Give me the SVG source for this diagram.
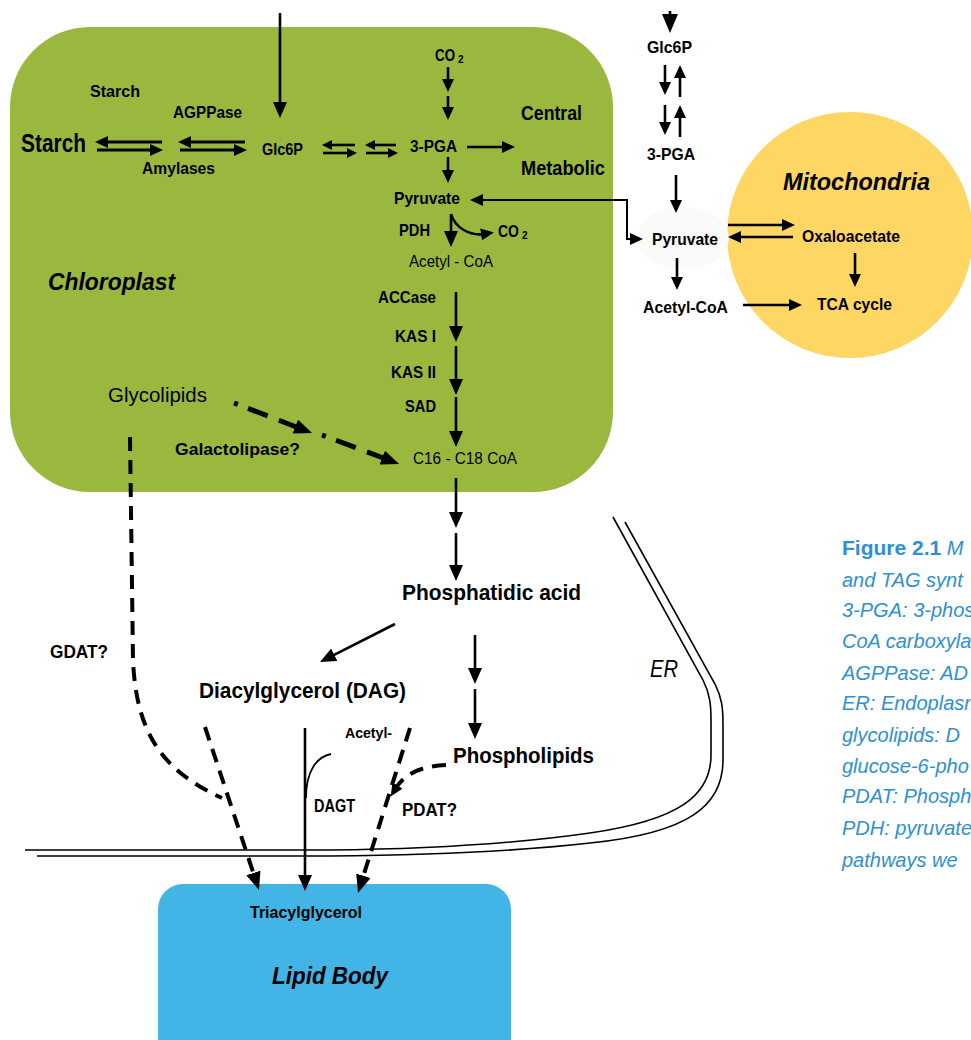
<svg xmlns="http://www.w3.org/2000/svg" width="971" height="1040" viewBox="0 0 971 1040">
<defs>
<style>
text{font-family:"Liberation Sans",Arial,sans-serif;fill:#000}
.b{font-weight:bold}
.r{font-weight:normal}
.bi{font-weight:bold;font-style:italic}
.i{font-style:italic;font-weight:normal}
.cap{font-family:"Liberation Sans",Arial,sans-serif;font-style:italic;font-size:20px;fill:#2E90D1}
.ln{fill:none;stroke:#000;stroke-width:2.6}
.thin{fill:none;stroke:#000;stroke-width:1.8}
.ds{fill:none;stroke:#000;stroke-width:4;stroke-dasharray:14 9}
.dd{fill:none;stroke:#000;stroke-width:5;stroke-dasharray:4 11 21 12 40 100}
.er{fill:none;stroke:#000;stroke-width:1.6}
</style>
<marker id="h" viewBox="0 0 13 12" refX="3" refY="6" markerWidth="13" markerHeight="12" markerUnits="userSpaceOnUse" orient="auto"><path d="M0,0 L13,6 L0,12 z"/></marker>
<marker id="hs" viewBox="0 0 10 10" refX="2" refY="5" markerWidth="10" markerHeight="10" markerUnits="userSpaceOnUse" orient="auto"><path d="M0,0 L10,5 L0,10 z"/></marker>
<marker id="hl" viewBox="0 0 16 14" refX="4" refY="7" markerWidth="16" markerHeight="14" markerUnits="userSpaceOnUse" orient="auto"><path d="M0,0 L16,7 L0,14 z"/></marker>
<marker id="hd" viewBox="0 0 18 15" refX="4" refY="7.5" markerWidth="18" markerHeight="15" markerUnits="userSpaceOnUse" orient="auto"><path d="M0,0 L18,7.5 L0,15 z"/></marker>
<marker id="hx" viewBox="0 0 19 16" refX="4" refY="8" markerWidth="19" markerHeight="16" markerUnits="userSpaceOnUse" orient="auto"><path d="M0,0 L19,8 L0,16 z"/></marker>
<marker id="hb" viewBox="0 0 13 12" refX="3" refY="6" markerWidth="13" markerHeight="12" markerUnits="userSpaceOnUse" orient="auto-start-reverse"><path d="M0,0 L13,6 L0,12 z"/></marker>
</defs>

<g id="chloroplast">
<rect x="10" y="27" width="603" height="465" rx="80" ry="80" fill="#9AB83E"/>
</g>
<g id="mitochondria">
<circle cx="850" cy="235" r="123" fill="#FDD663"/>
<ellipse cx="683" cy="238" rx="46" ry="31" fill="#FAFAF9"/>
</g>
<g id="lipid-body">
<rect x="158" y="884" width="353" height="200" rx="25" ry="25" fill="#42B4E6"/>
</g>
<g id="er-membrane">
<path class="er" d="M613 517 L703 680 C710 694 711 705 711 720 L711 755 C711 795 680 820 590 833 C520 843 430 849 330 850 L25 850"/>
<path class="er" d="M625 522 L715 684 C722 698 723 708 723 725 L723 760 C723 805 690 833 590 843 C520 851 430 855 330 856 L37 856"/>
</g>

<g id="connectors">
<path class="ln" d="M280 13 L280 106" marker-end="url(#hl)"/>
<path class="ln" style="stroke-width:3" d="M162 142 L105 142" marker-end="url(#h)"/>
<path class="ln" style="stroke-width:3" d="M97 150 L153 150" marker-end="url(#h)"/>
<path class="ln" style="stroke-width:3" d="M245 142 L188 142" marker-end="url(#h)"/>
<path class="ln" style="stroke-width:3" d="M180 150 L237 150" marker-end="url(#h)"/>
<path class="ln" d="M355 145 L330 145" marker-end="url(#hs)"/>
<path class="ln" d="M323 153 L349 153" marker-end="url(#hs)"/>
<path class="ln" d="M396 145 L373 145" marker-end="url(#hs)"/>
<path class="ln" d="M366 153 L390 153" marker-end="url(#hs)"/>
<path class="ln" d="M467 147 L505 147" marker-end="url(#h)"/>
<path class="ln" d="M448 67 L448 82" marker-end="url(#h)"/>
<path class="ln" d="M448 96 L448 110" marker-end="url(#h)"/>
<path class="ln" d="M448 157 L448 173" marker-end="url(#h)"/>
<path class="thin" style="stroke-width:2" d="M480 200 L627 200 L627 239 L633 239" marker-start="url(#hb)" marker-end="url(#hb)"/>
<path class="ln" d="M451 214 L451 235" marker-end="url(#hl)"/>
<path class="ln" d="M451 214 C455 228 470 236 484 234" marker-end="url(#h)"/>
<path class="ln" d="M456 292 L456 330" marker-end="url(#hl)"/>
<path class="ln" d="M456 346 L456 383" marker-end="url(#hl)"/>
<path class="ln" d="M456 397 L456 435" marker-end="url(#hl)"/>
<path class="dd" d="M234 403 L299 428" marker-end="url(#hd)"/>
<path class="dd" d="M322 435 L386 459" marker-end="url(#hd)"/>
<path class="ln" d="M456 478 L456 516" marker-end="url(#hl)"/>
<path class="ln" d="M456 533 L456 569" marker-end="url(#hl)"/>
<path class="ln" d="M395 624 L330.7 656.6" marker-end="url(#hl)"/>
<path class="ln" d="M475 635 L475 672" marker-end="url(#hl)"/>
<path class="ln" d="M475 689 L475 727" marker-end="url(#hl)"/>
<path class="ds" d="M130 437 L133 660 C136 730 160 770 222 798"/>
<path class="ds" d="M205 727 L254.6 876.7" marker-end="url(#hd)"/>
<path class="ln" d="M305 728 L305 879" marker-end="url(#hl)"/>
<path class="thin" d="M306 798 C306 772 316 757 331 754"/>
<path class="ds" d="M410 728 L362.2 879.6" marker-end="url(#hd)"/>
<path class="ds" d="M446 765 C424 766 406 772 396 788" marker-end="url(#h)"/>
<path class="ln" d="M670 11 L670 18" marker-end="url(#hx)"/>
<path class="ln" d="M665 65 L665 85" marker-end="url(#h)"/>
<path class="ln" d="M680 97 L680 75" marker-end="url(#h)"/>
<path class="ln" d="M665 105 L665 125" marker-end="url(#h)"/>
<path class="ln" d="M680 137 L680 115" marker-end="url(#h)"/>
<path class="ln" d="M676 175 L676 203" marker-end="url(#h)"/>
<path class="ln" d="M677 258 L677 280" marker-end="url(#h)"/>
<path class="ln" d="M728 225 L785 225" marker-end="url(#h)"/>
<path class="ln" d="M793 237 L738 237" marker-end="url(#h)"/>
<path class="ln" d="M855 253 L855 277" marker-end="url(#h)"/>
<path class="ln" d="M743 305 L792 305" marker-end="url(#h)"/>
</g>

<g id="n-starch-label"><text class="b" x="90" y="97" font-size="17" textLength="50" lengthAdjust="spacingAndGlyphs">Starch</text></g>
<g id="n-agppase"><text class="b" x="173" y="118" font-size="17" textLength="69" lengthAdjust="spacingAndGlyphs">AGPPase</text></g>
<g id="n-starch"><text class="b" x="21" y="152" font-size="25" textLength="65" lengthAdjust="spacingAndGlyphs">Starch</text></g>
<g id="n-amylases"><text class="b" x="142" y="174" font-size="17" textLength="73" lengthAdjust="spacingAndGlyphs">Amylases</text></g>
<g id="n-glc6p"><text class="b" x="262" y="155" font-size="16.5" textLength="41" lengthAdjust="spacingAndGlyphs">Glc6P</text></g>
<g id="n-3pga"><text class="b" x="410" y="152" font-size="16" textLength="47" lengthAdjust="spacingAndGlyphs">3-PGA</text></g>
<g id="n-central"><text class="b" x="521" y="120" font-size="19.5" textLength="61" lengthAdjust="spacingAndGlyphs">Central</text>
<text class="b" x="521" y="175" font-size="19.5" textLength="84" lengthAdjust="spacingAndGlyphs">Metabolic</text></g>
<g id="n-co2-top"><text class="b" x="435" y="61" font-size="16" textLength="20" lengthAdjust="spacingAndGlyphs">CO</text><text class="b" x="458" y="63" font-size="10">2</text></g>
<g id="n-pyruvate"><text class="b" x="394" y="204" font-size="16.5" textLength="66" lengthAdjust="spacingAndGlyphs">Pyruvate</text></g>
<g id="n-pdh"><text class="b" x="399" y="236" font-size="16.5" textLength="31" lengthAdjust="spacingAndGlyphs">PDH</text></g>
<g id="n-co2"><text class="b" x="498" y="237" font-size="16" textLength="21" lengthAdjust="spacingAndGlyphs">CO</text><text class="b" x="522" y="239" font-size="10">2</text></g>
<g id="n-acetylcoa"><text class="r" x="409" y="267" font-size="16.5" textLength="84" lengthAdjust="spacingAndGlyphs">Acetyl - CoA</text></g>
<g id="n-chloroplast-label"><text class="bi" x="48" y="290" font-size="24" textLength="127" lengthAdjust="spacingAndGlyphs">Chloroplast</text></g>
<g id="n-enzymes">
<text class="b" x="378" y="303" font-size="16.5" textLength="58" lengthAdjust="spacingAndGlyphs">ACCase</text>
<text class="b" x="395" y="342" font-size="16.5" textLength="41" lengthAdjust="spacingAndGlyphs">KAS I</text>
<text class="b" x="391" y="378" font-size="16.5" textLength="45" lengthAdjust="spacingAndGlyphs">KAS II</text>
<text class="b" x="405" y="412" font-size="16.5" textLength="31" lengthAdjust="spacingAndGlyphs">SAD</text>
</g>
<g id="n-glycolipids"><text class="r" x="108" y="402" font-size="21" textLength="99" lengthAdjust="spacingAndGlyphs">Glycolipids</text></g>
<g id="n-galactolipase"><text class="b" x="175" y="455" font-size="16.5" textLength="125" lengthAdjust="spacingAndGlyphs">Galactolipase?</text></g>
<g id="n-c16c18"><text class="r" x="413" y="464" font-size="16" textLength="104" lengthAdjust="spacingAndGlyphs">C16 - C18 CoA</text></g>
<g id="n-pa"><text class="b" x="402" y="600" font-size="22" textLength="179" lengthAdjust="spacingAndGlyphs">Phosphatidic acid</text></g>
<g id="n-dag"><text class="b" x="199" y="698" font-size="22" textLength="207" lengthAdjust="spacingAndGlyphs">Diacylglycerol (DAG)</text></g>
<g id="n-phospholipids"><text class="b" x="453" y="763" font-size="22" textLength="141" lengthAdjust="spacingAndGlyphs">Phospholipids</text></g>
<g id="n-gdat"><text class="b" x="50" y="658" font-size="17.5" textLength="58" lengthAdjust="spacingAndGlyphs">GDAT?</text></g>
<g id="n-acetyl"><text class="b" x="345" y="738" font-size="14" textLength="47" lengthAdjust="spacingAndGlyphs">Acetyl-</text></g>
<g id="n-dagt"><text class="b" x="314" y="812" font-size="17.5" textLength="41" lengthAdjust="spacingAndGlyphs">DAGT</text></g>
<g id="n-pdat"><text class="b" x="402" y="816" font-size="18" textLength="55" lengthAdjust="spacingAndGlyphs">PDAT?</text></g>
<g id="n-er"><text class="i" x="650" y="677" font-size="23" textLength="28" lengthAdjust="spacingAndGlyphs">ER</text></g>
<g id="n-tag"><text class="b" x="250" y="918" font-size="16.5" textLength="112" lengthAdjust="spacingAndGlyphs">Triacylglycerol</text></g>
<g id="n-lipidbody"><text class="bi" x="272" y="984" font-size="23" textLength="116" lengthAdjust="spacingAndGlyphs">Lipid Body</text></g>

<g id="n-mito-glc6p"><text class="b" x="647" y="53" font-size="16.5" textLength="45" lengthAdjust="spacingAndGlyphs">Glc6P</text></g>
<g id="n-mito-3pga"><text class="b" x="647" y="160" font-size="16.5" textLength="48" lengthAdjust="spacingAndGlyphs">3-PGA</text></g>
<g id="n-mito-pyruvate"><text class="b" x="652" y="245" font-size="16.5" textLength="66" lengthAdjust="spacingAndGlyphs">Pyruvate</text></g>
<g id="n-oxaloacetate"><text class="b" x="802" y="242" font-size="17" textLength="98" lengthAdjust="spacingAndGlyphs">Oxaloacetate</text></g>
<g id="n-mito-acetylcoa"><text class="b" x="643" y="313" font-size="16.5" textLength="85" lengthAdjust="spacingAndGlyphs">Acetyl-CoA</text></g>
<g id="n-tca"><text class="b" x="817" y="310" font-size="17" textLength="75" lengthAdjust="spacingAndGlyphs">TCA cycle</text></g>
<g id="n-mito-label"><text class="bi" x="783" y="190" font-size="23" textLength="147" lengthAdjust="spacingAndGlyphs">Mitochondria</text></g>

<g id="caption">
<text class="cap" x="842" y="555"><tspan font-weight="bold" font-style="normal" font-size="21">Figure 2.1</tspan> M</text>
<text class="cap" x="842" y="587">and TAG synt</text>
<text class="cap" x="842" y="617">3-PGA: 3-phos</text>
<text class="cap" x="842" y="648">CoA carboxyla</text>
<text class="cap" x="842" y="680">AGPPase: AD</text>
<text class="cap" x="842" y="710">ER: Endoplasm</text>
<text class="cap" x="842" y="742">glycolipids: D</text>
<text class="cap" x="842" y="773">glucose-6-pho</text>
<text class="cap" x="842" y="803">PDAT: Phosph</text>
<text class="cap" x="842" y="835">PDH: pyruvate</text>
<text class="cap" x="842" y="867">pathways we</text>
</g>
</svg>
